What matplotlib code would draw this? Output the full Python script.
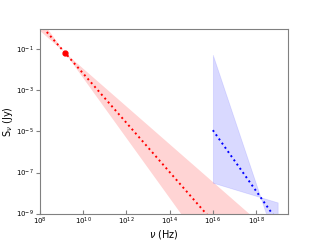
import numpy as np
import matplotlib
matplotlib.use("Agg")
import matplotlib.pyplot as plt

# radio component: pivot point and spectral indices
radio_nu0 = 1.4e9
radio_s0 = 0.07
radio_alpha = -1.2
radio_alpha_lo = -0.92
radio_alpha_hi = -1.46

# x-ray component
xray_nu_start = 1e16
xray_nu_end = 1e19
xray_nu_piv = 1.6e18
xray_s_piv = 6.3e-9
xray_alpha = -1.48
xray_alpha_lo = -0.32
xray_alpha_hi = -3.14

fig = plt.figure(figsize=(3.2, 2.4), dpi=100)
ax = fig.add_subplot(1, 1, 1)
fig.subplots_adjust(left=0.125, right=0.9, bottom=0.11, top=0.88)

# radio
nu = np.logspace(8, 19.5, 200)
s_mid = radio_s0 * (nu / radio_nu0) ** radio_alpha
s_a = radio_s0 * (nu / radio_nu0) ** radio_alpha_lo
s_b = radio_s0 * (nu / radio_nu0) ** radio_alpha_hi
ax.fill_between(nu, np.minimum(s_a, s_b), np.maximum(s_a, s_b),
                color='red', alpha=0.17, lw=0)
ax.plot(nu, s_mid, color='red', ls=':', lw=1.4)
ax.plot([radio_nu0], [radio_s0], 'o', color='red', ms=3.5)

# x-ray
nux = np.logspace(np.log10(xray_nu_start), np.log10(xray_nu_end), 100)
sx_mid = xray_s_piv * (nux / xray_nu_piv) ** xray_alpha
sx_a = xray_s_piv * (nux / xray_nu_piv) ** xray_alpha_lo
sx_b = xray_s_piv * (nux / xray_nu_piv) ** xray_alpha_hi
ax.fill_between(nux, np.minimum(sx_a, sx_b), np.maximum(sx_a, sx_b),
                facecolor=(0, 0, 1, 0.15), edgecolor=(0, 0, 1, 0.1), lw=0.6)
ax.plot(nux, sx_mid, color='blue', ls=':', lw=1.4)

ax.set_xscale('log')
ax.set_yscale('log')
ax.set_xlim(1e8, 3e19)
ax.set_ylim(1e-9, 1)
ax.set_xticks([1e8, 1e10, 1e12, 1e14, 1e16, 1e18])
ax.set_yticks([1e-9, 1e-7, 1e-5, 1e-3, 1e-1])
ax.minorticks_off()
ax.tick_params(axis='x', direction='in', labelsize=5, color='gray', length=3, pad=1.5)
ax.tick_params(axis='y', direction='out', labelsize=5, color='gray', length=3, pad=1.5)
for sp in ax.spines.values():
    sp.set_color('gray')
ax.set_xlabel(r'$\nu$ (Hz)', fontsize=7, labelpad=1)
ax.set_ylabel(r'S$_\nu$ (Jy)', fontsize=7, labelpad=1)

fig.savefig("out.png", dpi=100)
